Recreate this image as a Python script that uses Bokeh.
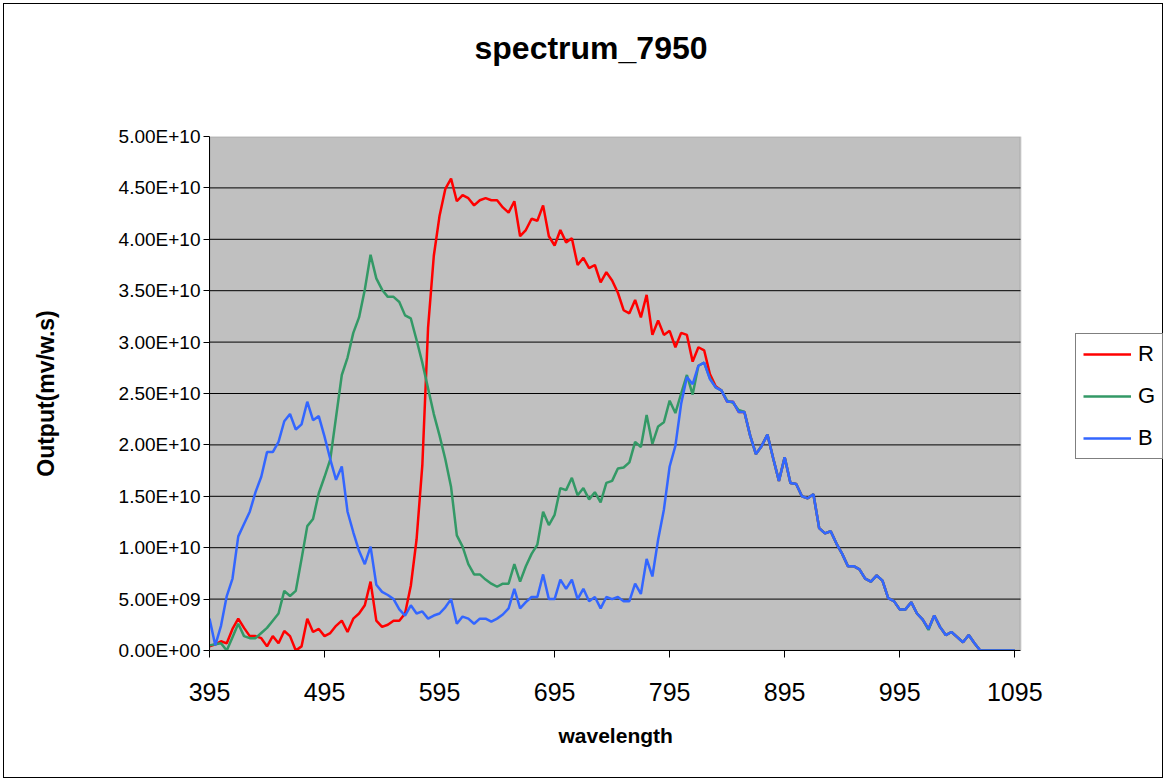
from bokeh.plotting import figure
from bokeh.models import (Range1d, FixedTicker, CustomJSTickFormatter, Legend,
                          LegendItem, Title, BoxAnnotation, ColumnDataSource)
from bokeh.embed import file_html
from bokeh.resources import INLINE

# ---------------- data (values in units of 1e9 mv/w.s) ----------------
WAVELENGTH = list(range(395, 1100, 5))

R = [0.4, 0.6, 0.9, 0.7, 2.1, 3.1, 2.2, 1.4, 1.4, 1.2,
     0.4, 1.4, 0.7, 1.9, 1.4, 0.0, 0.4, 3.1, 1.8, 2.1,
     1.4, 1.7, 2.4, 2.9, 1.8, 3.1, 3.6, 4.4, 6.7, 2.9,
     2.3, 2.5, 2.9, 2.9, 3.6, 6.3, 10.8, 18.0, 31.4, 38.4,
     42.3, 44.9, 45.9, 43.7, 44.3, 44.0, 43.3, 43.8, 44.0, 43.8,
     43.8, 43.1, 42.6, 43.7, 40.3, 40.9, 42.0, 41.8, 43.3, 40.3,
     39.4, 40.9, 39.7, 40.1, 37.5, 38.2, 37.2, 37.5, 35.8, 36.8,
     36.0, 34.8, 33.1, 32.8, 34.1, 32.4, 34.6, 30.7, 32.1, 30.7,
     31.1, 29.5, 30.9, 30.7, 28.1, 29.5, 29.2, 26.9, 25.7, 25.3,
     24.2, 24.2, 23.2, 23.2, 20.9, 19.1, 19.9, 21.0, 18.7, 16.5,
     18.8, 16.3, 16.2, 15.0, 14.8, 15.2, 11.9, 11.4, 11.6, 10.4,
     9.4, 8.2, 8.2, 7.9, 7.0, 6.7, 7.3, 6.8, 5.1, 4.8,
     4.0, 4.0, 4.7, 3.6, 3.0, 2.1, 3.4, 2.3, 1.5, 1.8,
     1.3, 0.8, 1.5, 0.7, 0.0, 0.0, 0.0, 0.0, 0.0, 0.0,
     0.0]

G = [0.5, 0.6, 0.7, 0.0, 1.3, 2.6, 1.4, 1.2, 1.2, 1.7,
     2.2, 2.9, 3.6, 5.8, 5.3, 5.8, 8.9, 12.1, 12.8, 15.3,
     16.9, 18.6, 22.7, 26.8, 28.5, 30.9, 32.4, 35.1, 38.5, 36.2,
     35.1, 34.4, 34.4, 33.9, 32.6, 32.3, 30.2, 28.0, 25.5, 23.0,
     20.9, 18.6, 15.9, 11.2, 10.1, 8.4, 7.4, 7.4, 6.9, 6.5,
     6.2, 6.5, 6.5, 8.4, 6.7, 8.2, 9.4, 10.3, 13.5, 12.2,
     13.2, 15.8, 15.6, 16.8, 15.1, 15.8, 14.7, 15.4, 14.4, 16.3,
     16.5, 17.7, 17.8, 18.3, 20.3, 19.8, 22.9, 20.1, 21.8, 22.2,
     24.3, 23.1, 25.0, 26.8, 24.9, 27.7, 28.0, 26.5, 25.6, 25.3,
     24.3, 24.1, 23.4, 23.2, 20.9, 19.1, 19.9, 21.0, 18.7, 16.5,
     18.8, 16.3, 16.2, 15.0, 14.8, 15.2, 11.9, 11.4, 11.6, 10.4,
     9.4, 8.2, 8.2, 7.9, 7.0, 6.7, 7.3, 6.8, 5.1, 4.8,
     4.0, 4.0, 4.7, 3.6, 3.0, 2.0, 3.4, 2.3, 1.5, 1.8,
     1.3, 0.8, 1.5, 0.7, 0.0, 0.0, 0.0, 0.0, 0.0, 0.0,
     0.0]

B = [3.1, 0.5, 2.4, 5.3, 7.0, 11.1, 12.3, 13.5, 15.4, 16.9,
     19.3, 19.3, 20.3, 22.3, 23.0, 21.5, 22.0, 24.2, 22.4, 22.8,
     20.8, 18.6, 16.6, 17.9, 13.5, 11.5, 9.7, 8.4, 10.1, 6.4,
     5.7, 5.4, 5.0, 4.0, 3.4, 4.4, 3.6, 3.8, 3.1, 3.4,
     3.6, 4.2, 5.0, 2.6, 3.3, 3.1, 2.6, 3.1, 3.1, 2.8,
     3.1, 3.5, 4.1, 6.0, 4.1, 4.7, 5.2, 5.2, 7.4, 5.0,
     5.0, 6.9, 6.0, 6.9, 5.0, 6.0, 4.8, 5.2, 4.1, 5.2,
     5.0, 5.2, 4.8, 4.8, 6.5, 5.5, 8.9, 7.2, 10.8, 13.7,
     17.9, 19.9, 24.0, 26.6, 25.9, 27.7, 28.0, 26.4, 25.6, 25.3,
     24.2, 24.2, 23.2, 23.2, 20.9, 19.1, 19.9, 21.0, 18.7, 16.5,
     18.8, 16.3, 16.2, 15.0, 14.8, 15.2, 11.9, 11.4, 11.6, 10.4,
     9.4, 8.2, 8.2, 7.9, 7.0, 6.7, 7.3, 6.8, 5.1, 4.8,
     4.0, 4.0, 4.7, 3.6, 3.0, 2.1, 3.4, 2.3, 1.5, 1.8,
     1.3, 0.8, 1.5, 0.7, 0.0, 0.0, 0.0, 0.0, 0.0, 0.0,
     0.0]

SERIES_NAMES = ["R", "G", "B"]
SERIES_COLORS = ["#FF0000", "#339966", "#3366FF"]
X_TICKS = [395, 495, 595, 695, 795, 895, 995, 1095]
Y_TICKS = [0, 5e9, 1e10, 1.5e10, 2e10, 2.5e10, 3e10, 3.5e10, 4e10, 4.5e10, 5e10]
X_MIN, X_MAX = 395, 1100          # plot-area extent on the wavelength axis
Y_MIN, Y_MAX = 0, 5e10            # plot-area extent on the output axis
TITLE = "spectrum_7950"
X_LABEL = "wavelength"
Y_LABEL = "Output(mv/w.s)"
SCALE = 1e9

FONT = "Liberation Sans"

source = ColumnDataSource(data=dict(
    x=WAVELENGTH,
    R=[v * SCALE for v in R],
    G=[v * SCALE for v in G],
    B=[v * SCALE for v in B],
))

# frame spans from the y axis to the right edge so the legend can sit inside it;
# the grey plot area itself covers X_MIN..X_MAX
FRAME_LEFT, FRAME_RIGHT_PX, AREA_RIGHT_PX = 209, 1166, 1020
x_end = X_MIN + (X_MAX - X_MIN) * (FRAME_RIGHT_PX - FRAME_LEFT) / (AREA_RIGHT_PX - FRAME_LEFT)

p = figure(width=1166, height=781, output_backend="svg", toolbar_location=None,
           x_range=Range1d(X_MIN, x_end), y_range=Range1d(Y_MIN, Y_MAX),
           min_border_left=209, min_border_right=0,
           min_border_top=136, min_border_bottom=131)

p.background_fill_color = None
p.border_fill_color = None
p.outline_line_color = None
p.styles = {"box-shadow": "inset 0 0 0 3px white, inset 0 0 0 4px black"}

p.xgrid.visible = False
p.ygrid.visible = False

area = BoxAnnotation(left=X_MIN, right=X_MAX, bottom=Y_MIN, top=Y_MAX,
                     fill_color="#C0C0C0", fill_alpha=1.0,
                     line_color="#808080", line_width=2, level="underlay")
p.add_layout(area)

grid_y = Y_TICKS[1:-1]
p.segment(x0=[X_MIN] * len(grid_y), x1=[X_MAX] * len(grid_y), y0=grid_y, y1=grid_y,
          line_color="black", line_width=1)

p.xaxis.ticker = FixedTicker(ticks=X_TICKS)
p.xaxis.bounds = (X_MIN, X_MAX)
p.yaxis.ticker = FixedTicker(ticks=Y_TICKS)
p.yaxis.formatter = CustomJSTickFormatter(code="""
    const s = tick.toExponential(2).toUpperCase();
    const i = s.indexOf("E");
    const mant = s.slice(0, i);
    const sign = s[i + 1];
    let d = s.slice(i + 2);
    if (d.length < 2) { d = "0" + d; }
    return mant + "E" + sign + d;
""")

for ax in (p.xaxis, p.yaxis):
    ax.axis_line_color = "black"
    ax.axis_line_width = 1
    ax.major_tick_line_color = "black"
    ax.major_tick_in = 0
    ax.minor_tick_line_color = None
    ax.major_label_text_font = FONT
    ax.major_label_text_color = "black"
    ax.axis_label_text_font = FONT
    ax.axis_label_text_font_style = "bold"
    ax.axis_label_text_color = "black"

p.xaxis.major_tick_out = 7
p.xaxis.major_label_text_font_size = "25px"
p.xaxis.major_label_standoff = 25

p.yaxis.major_tick_out = 6
p.yaxis.major_label_text_font_size = "19px"
p.yaxis.major_label_standoff = 3
p.yaxis.axis_label = Y_LABEL
p.yaxis.axis_label_text_font_size = "23px"
p.yaxis.axis_label_standoff = 57

renderers = []
for name, color in zip(SERIES_NAMES, SERIES_COLORS):
    r = p.line("x", name, source=source, line_color=color, line_width=2.5)
    renderers.append(r)

legend = Legend(items=[LegendItem(label=n, renderers=[r]) for n, r in zip(SERIES_NAMES, renderers)],
                location=(866, 191),
                border_line_color="black", border_line_width=1,
                background_fill_color="white", background_fill_alpha=1.0,
                padding=7, spacing=16, glyph_height=22, label_height=22,
                glyph_width=48, label_standoff=7, label_width=0,
                label_text_font=FONT, label_text_font_size="22px",
                label_text_color="black")
p.add_layout(legend)

# x-axis title, centred under the grey plot area
p.add_layout(Title(text=X_LABEL, align="left", offset=349, vertical_align="top", standoff=40,
                   text_font=FONT, text_font_style="bold", text_font_size="21px",
                   text_color="black"), "below")

# spacer between frame and chart title, then the chart title (stacked outward)
p.add_layout(Title(text=" ", text_font_size="10px", text_color="white", standoff=58), "above")
p.add_layout(Title(text=TITLE, align="left", offset=265, standoff=0,
                   text_font=FONT, text_font_style="bold", text_font_size="32px",
                   text_color="black"), "above")

open("out.html", "w").write(file_html(p, INLINE))
